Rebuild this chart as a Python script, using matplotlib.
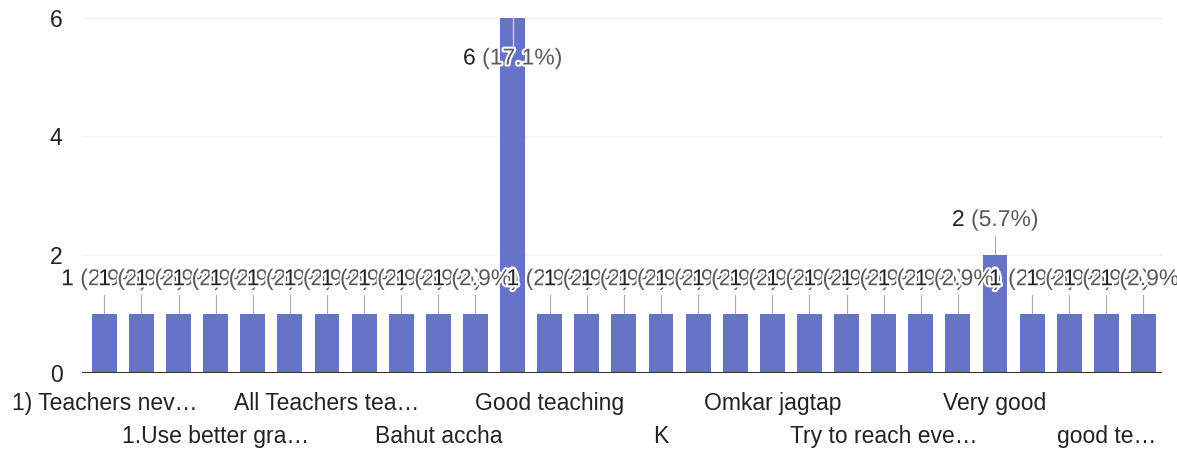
import matplotlib.pyplot as plt
import matplotlib.patheffects as pe
import numpy as np

plt.rcParams['font.family'] = ['Liberation Sans', 'DejaVu Sans']

# responses sorted alphabetically, only every third label is shown on the axis
labels = ['1) Teachers nev…', '', '', '1.Use better gra…', '', '', 'All Teachers tea…', '', '',
          'Bahut accha', '', '', 'Good teaching', '', '', 'K', '', '', 'Omkar jagtap', '', '',
          'Try to reach eve…', '', '', 'Very good', '', '', 'good te…', '']
counts = [1, 1, 1, 1, 1, 1, 1, 1, 1, 1, 1, 6,
          1, 1, 1, 1, 1, 1, 1, 1, 1, 1, 1, 1, 2,
          1, 1, 1, 1]
total = sum(counts)

x = np.arange(len(counts))
bar_color = '#6574c6'
fs = 16.5

fig = plt.figure(figsize=(11.77, 4.5), dpi=100)
ax = fig.add_axes([0.0697, 0.171, 0.9176, 0.789])

ax.bar(x, counts, width=0.67, color=bar_color, zorder=2)
ax.set_xlim(-0.6, 28.5)
ax.set_ylim(0, 6)

# faint gridlines and dark baseline
for g in [2, 4, 6]:
    ax.axhline(g, color='#f3f3f3', lw=1, zorder=0)
ax.axhline(0, color='#333333', lw=1.5, zorder=3)

for s in ax.spines.values():
    s.set_visible(False)

ax.set_yticks([0, 2, 4, 6])
ax.tick_params(axis='y', length=0, pad=14, labelsize=fs, labelcolor='#222222')

# staggered category labels: two rows
row1 = [i for i in range(0, len(labels), 6)]
row2 = [i for i in range(3, len(labels), 6)]
ax.set_xticks(row1)
ax.set_xticklabels([labels[i] for i in row1])
ax.set_xticks(row2, minor=True)
ax.set_xticklabels([labels[i] for i in row2], minor=True)
ax.tick_params(axis='x', which='major', length=0, pad=13.5, labelsize=fs, labelcolor='#222222')
ax.tick_params(axis='x', which='minor', length=0, pad=37.5, labelsize=fs, labelcolor='#222222')

# value annotations with leader lines
halo = [pe.withStroke(linewidth=3, foreground='white')]
for xi, c in zip(x, counts):
    pct = '(%.1f%%)' % (100 * c / total)
    s = '%d %s' % (c, pct)
    if c == max(counts):
        ty = c - 0.87
        ax.plot([xi, xi], [c, ty + 0.3], color='#c8cde8', lw=1, zorder=3)
    else:
        ty = c + 0.4
        ax.plot([xi, xi], [c, ty - 0.08], color='#aaaaaa', lw=0.8, zorder=1)
    full = ax.text(xi, ty, s, ha='center', va='bottom', fontsize=fs, color='#5a5a5a',
                   zorder=4, path_effects=halo)
    ax.annotate(str(c), xy=(0, 0), xycoords=full, ha='left', va='bottom',
                fontsize=fs, color='#222222', zorder=4, path_effects=halo)

fig.savefig('out.png', dpi=100)
